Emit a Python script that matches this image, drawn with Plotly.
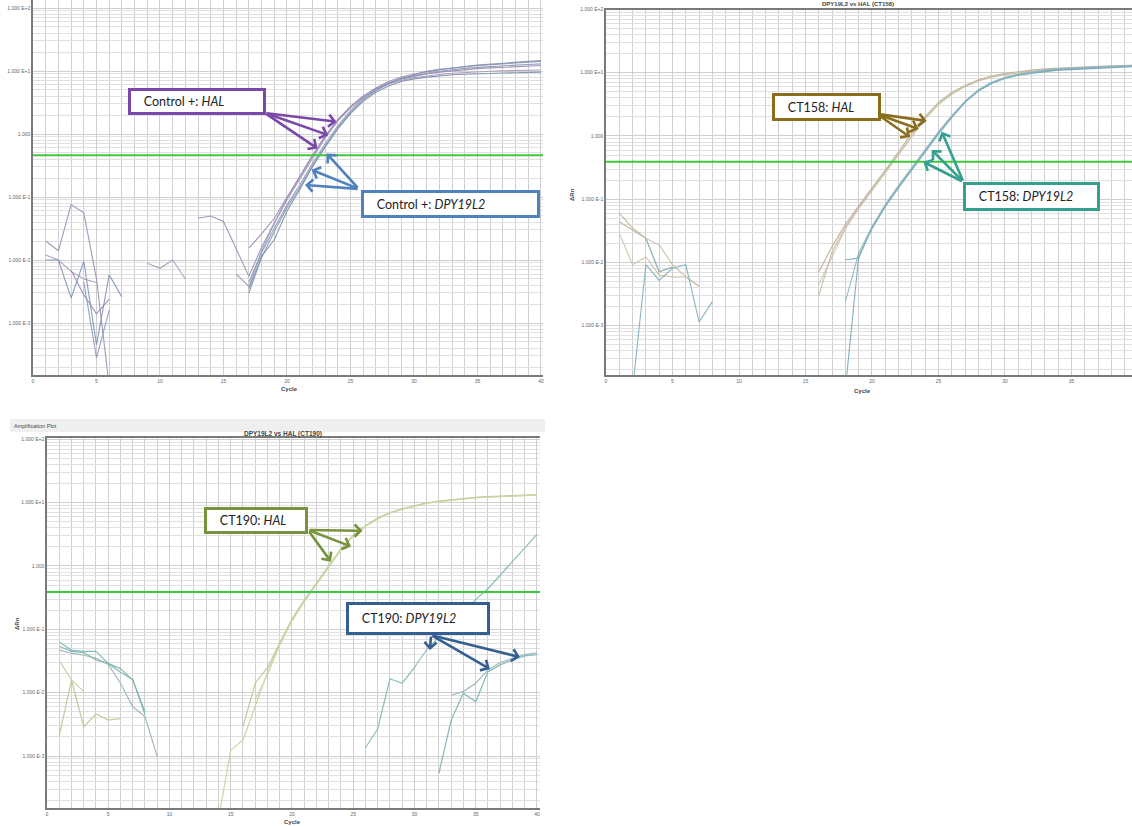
import math
import plotly.graph_objects as go

W, H = 1132, 827
N = None

CYCLES = list(range(1, 41))
X_TICKS = [0, 5, 10, 15, 20, 25, 30, 35, 40]
DECADES = [1e-3, 1e-2, 1e-1, 1.0, 10.0, 100.0]
DECADE_TEXT = ["1.000 E-3", "1.000 E-2", "1.000 E-1", "1.000", "1.000 E+1", "1.000 E+2"]

# ---- Control + (HAL / DPY19L2), delta Rn per cycle ----
ctrl_hal_1 = [0.020, 0.014, 0.076, 0.056, 0.0050, 0.0001, N, N, N, N,
              N, N, 0.046, 0.050, 0.041, 0.015, 0.0055, 0.016, 0.040, 0.095,
              0.20, 0.44, 0.90, 1.65, 2.7, 4.0, 5.4, 6.8, 8.0, 9.0,
              9.9, 10.6, 11.2, 11.7, 12.2, 12.6, 13.0, 13.4, 13.8, 14.2]
ctrl_hal_2 = [0.012, 0.010, 0.0066, 0.0050, 0.0044, N, N, N, 0.0089, 0.0074,
              0.010, 0.0050, N, N, N, 0.0060, 0.0038, 0.014, 0.038, 0.090,
              0.19, 0.42, 0.86, 1.6, 2.6, 3.8, 5.0, 6.2, 7.1, 7.8,
              8.4, 8.8, 9.2, 9.5, 9.7, 9.9, 10.1, 10.2, 10.3, 10.4]
ctrl_hal_3 = [N, N, 0.0069, 0.0028, 0.0014, 0.0024, N, N, N, N,
              N, N, N, N, N, N, 0.0155, 0.026, 0.046, 0.10,
              0.21, 0.46, 0.93, 1.7, 2.75, 4.0, 5.3, 6.5, 7.5, 8.3,
              9.0, 9.6, 10.1, 10.5, 10.9, 11.2, 11.5, 11.8, 12.0, 12.2]
ctrl_dpy_1 = [0.010, 0.010, 0.0025, 0.0095, 0.00045, 0.0058, 0.0026, N, N, N,
              N, N, N, N, N, N, 0.0030, 0.011, 0.028, 0.068,
              0.14, 0.31, 0.64, 1.25, 2.2, 3.5, 4.9, 6.3, 7.6, 8.7,
              9.7, 10.5, 11.2, 11.8, 12.4, 12.9, 13.4, 13.8, 14.2, 14.6]
ctrl_dpy_2 = [N, N, N, 0.0045, 0.00028, 0.0016, N, N, N, N,
              N, N, N, N, N, N, 0.0045, 0.013, 0.032, 0.075,
              0.155, 0.34, 0.70, 1.35, 2.35, 3.7, 5.1, 6.4, 7.5, 8.4,
              9.2, 9.9, 10.5, 11.0, 11.4, 11.8, 12.1, 12.4, 12.7, 13.0]
ctrl_dpy_3 = [N, N, N, N, N, N, N, N, N, N,
              N, N, N, N, N, N, 0.0035, 0.0115, 0.021, 0.060,
              0.13, 0.30, 0.62, 1.2, 2.1, 3.3, 4.6, 5.8, 6.8, 7.5,
              8.0, 8.4, 8.7, 8.9, 9.1, 9.2, 9.3, 9.4, 9.5, 9.6]

# ---- CT158 ----
ct158_hal_1 = [0.060, 0.035, 0.024, 0.019, 0.0092, 0.0059, 0.0042, N, N, N,
               N, N, N, N, N, 0.0030, 0.0148, 0.036, 0.074, 0.141,
               0.269, 0.525, 1.02, 1.9, 3.16, 4.57, 6.03, 7.41, 8.51, 9.33,
               10.0, 10.5, 11.0, 11.2, 11.5, 11.7, 12.0, 12.3, 12.6, 12.6]
ct158_hal_2 = [0.044, 0.033, 0.024, 0.0071, 0.0085, N, N, N, N, N,
               N, N, N, N, N, 0.0071, 0.0178, 0.040, 0.079, 0.151,
               0.288, 0.56, 1.10, 2.04, 3.39, 4.9, 6.3, 7.76, 8.9, 9.77,
               10.5, 11.0, 11.5, 11.7, 12.0, 12.3, 12.6, 12.9, 12.9, 13.2]
ct158_hal_3 = [0.029, 0.0092, 0.0123, 0.0063, 0.0059, 0.0059, 0.0042, N, N, N,
               N, N, N, N, N, 0.0045, 0.0126, 0.034, 0.071, 0.135,
               0.263, 0.50, 0.98, 1.86, 3.16, 4.68, 6.17, 7.59, 8.71, 9.55,
               10.2, 10.7, 11.2, 11.5, 11.7, 12.0, 12.3, 12.6, 12.9, 12.9]
ct158_dpy_1 = [N, 0.0001, 0.0092, 0.0052, 0.0081, 0.0092, 0.00115, 0.0024, N, N,
               N, N, N, N, N, N, N, 0.011, 0.0117, 0.0355,
               0.079, 0.158, 0.302, 0.589, 1.12, 2.0, 3.47, 5.25, 6.92, 8.32,
               9.33, 10.0, 10.7, 11.2, 11.5, 11.7, 12.0, 12.3, 12.6, 12.9]
ct158_dpy_2 = [N, N, 0.024, 0.0071, 0.0085, N, N, N, N, N,
               N, N, N, N, N, N, N, 0.0024, 0.0141, 0.037,
               0.083, 0.166, 0.316, 0.617, 1.17, 2.09, 3.55, 5.37, 7.08, 8.51,
               9.55, 10.2, 11.0, 11.5, 11.7, 12.0, 12.3, 12.6, 12.9, 13.2]
ct158_dpy_3 = [N, N, N, N, N, N, N, N, N, N,
               N, N, N, N, N, N, N, 0.0001, 0.0125, 0.034,
               0.076, 0.151, 0.288, 0.562, 1.07, 1.95, 3.39, 5.13, 6.76, 8.13,
               9.12, 9.77, 10.5, 11.0, 11.2, 11.5, 11.7, 12.0, 12.3, 12.6]

# ---- CT190 ----
ct190_hal_1 = [0.032, 0.0158, 0.0105, N, N, N, N, N, N, N,
               N, N, N, 0.0001, 0.00123, 0.0018, 0.0063, 0.021, 0.059, 0.14,
               0.28, 0.52, 1.0, 1.82, 3.0, 4.27, 5.6, 6.9, 7.9, 8.9,
               9.8, 10.5, 11.0, 11.5, 12.0, 12.3, 12.6, 12.9, 13.2, 13.2]
ct190_hal_2 = [0.0021, 0.0158, 0.0029, 0.0046, 0.0037, 0.0039, N, N, N, N,
               N, N, N, N, N, 0.0029, 0.0141, 0.025, 0.062, 0.145,
               0.29, 0.54, 1.03, 1.86, 3.05, 4.3, 5.7, 7.0, 8.0, 9.0,
               9.9, 10.6, 11.1, 11.6, 12.1, 12.4, 12.7, 13.0, 13.3, 13.4]
ct190_hal_3 = [N, N, N, N, N, N, N, N, N, N,
               N, N, N, N, N, N, 0.0079, 0.019, 0.056, 0.135,
               0.27, 0.51, 0.98, 1.78, 2.95, 4.2, 5.5, 6.8, 7.8, 8.8,
               9.7, 10.4, 10.9, 11.4, 11.9, 12.2, 12.5, 12.8, 13.1, 13.1]
ct190_dpy_1 = [0.063, 0.047, 0.045, 0.045, 0.029, 0.024, 0.0158, 0.0050, N, N,
               N, N, N, N, N, N, N, N, N, N,
               N, N, N, N, N, 0.00135, 0.0027, 0.0166, 0.0141, 0.025,
               0.048, 0.076, 0.12, 0.19, 0.295, 0.437, 0.71, 1.17, 1.9, 3.16]
ct190_dpy_2 = [0.054, 0.045, 0.043, 0.033, 0.029, 0.021, 0.0162, 0.0045, N, N,
               N, N, N, N, N, N, N, N, N, N,
               N, N, N, N, N, N, N, N, N, N,
               N, 0.00054, 0.0037, 0.0098, 0.0072, 0.0214, 0.0275, 0.033, 0.038, 0.040]
ct190_dpy_3 = [0.047, 0.042, 0.039, 0.035, 0.028, 0.0141, 0.0060, 0.0042, 0.00098, N,
               N, N, N, N, N, N, N, N, N, N,
               N, N, N, N, N, N, N, N, N, N,
               N, N, 0.0091, 0.0105, 0.0141, 0.0229, 0.030, 0.0347, 0.040, 0.0427]

# threshold lines (delta Rn)
THRESHOLDS = [0.46, 0.39, 0.39]

# arrow tips (cycle, delta Rn) and shared tails
ctrl_hal_tips = [(23.9, 1.57), (23.25, 0.96), (22.4, 0.59)]
ctrl_hal_tail = (18.27, 2.15)
ctrl_dpy_tips = [(23.13, 0.49), (21.94, 0.27), (21.42, 0.155)]
ctrl_dpy_tail = (25.67, 0.134)
ct158_hal_tips = [(24.11, 1.73), (23.5, 1.29), (22.86, 0.96)]
ct158_hal_tail = (20.38, 2.23)
ct158_dpy_tips = [(25.24, 1.17), (24.49, 0.60), (23.86, 0.39)]
ct158_dpy_tail = (26.88, 0.187)
ct190_hal_tips = [(25.76, 3.6), (24.82, 2.03), (23.18, 1.17)]
ct190_hal_tail = (21.31, 3.7)
ct190_dpy_tips = [(31.27, 0.047), (36.16, 0.0236), (38.61, 0.0365)]
ct190_dpy_tail = (31.35, 0.0813)

# ---------------- styling ----------------
GRID_MAJOR = "#cfcfcf"
GRID_MINOR = "#e0e0e0"
AXIS_COLOR = "#7a7a7a"
TICK_FONT = dict(family="Liberation Sans", size=5, color="#666666")
GREEN = "#3cc83c"
MINOR_VALS = [k * 10.0 ** e for e in range(-4, 3) for k in range(2, 10)]

fig = go.Figure()


def add_series(values, color, xa, ya, width=1.1):
    fig.add_trace(go.Scatter(
        x=CYCLES, y=values, mode="lines", xaxis=xa, yaxis=ya,
        line=dict(color=color, width=width), opacity=0.9,
        connectgaps=False, showlegend=False, hoverinfo="skip"))


for vals, col in [(ctrl_hal_1, "#9b8fb3"), (ctrl_hal_2, "#a89bba"), (ctrl_hal_3, "#9d88b5"),
                  (ctrl_dpy_1, "#7f93b3"), (ctrl_dpy_2, "#8a9ab6"), (ctrl_dpy_3, "#7a8dac")]:
    add_series(vals, col, "x", "y")

for vals, col in [(ct158_hal_1, "#c4b99c"), (ct158_hal_2, "#bbb19a"), (ct158_hal_3, "#cdc2a6"),
                  (ct158_dpy_1, "#7eafbe"), (ct158_dpy_2, "#8cb7c2"), (ct158_dpy_3, "#77a8b8")]:
    add_series(vals, col, "x2", "y2")

for vals, col in [(ct190_hal_1, "#c4d3a0"), (ct190_hal_2, "#b8c895"), (ct190_hal_3, "#cddbab"),
                  (ct190_dpy_1, "#80b8b9"), (ct190_dpy_2, "#79b3b5"), (ct190_dpy_3, "#98b2b8")]:
    add_series(vals, col, "x3", "y3", width=1.2)


def x_axis(domain, rng, anchor, mirror):
    return dict(domain=domain, range=rng, anchor=anchor,
                tickmode="array", tickvals=X_TICKS, ticktext=[str(v) for v in X_TICKS],
                showgrid=True, gridcolor=GRID_MAJOR, gridwidth=1,
                minor=dict(tickmode="linear", tick0=0, dtick=1, showgrid=True,
                           gridcolor=GRID_MAJOR, gridwidth=1, ticks=""),
                showline=True, linecolor=AXIS_COLOR, linewidth=1.5, mirror=mirror,
                ticks="", tickfont=TICK_FONT, zeroline=False, automargin=False, fixedrange=True)


def y_axis(domain, rng, anchor):
    return dict(type="log", domain=domain, range=rng, anchor=anchor,
                tickmode="array", tickvals=DECADES, ticktext=DECADE_TEXT,
                showgrid=True, gridcolor=GRID_MAJOR, gridwidth=1,
                minor=dict(tickmode="array", tickvals=MINOR_VALS, showgrid=True,
                           gridcolor=GRID_MINOR, gridwidth=1, ticks=""),
                showline=True, linecolor=AXIS_COLOR, linewidth=1.5,
                ticks="", tickfont=TICK_FONT, zeroline=False, automargin=False, fixedrange=True)


def px_x(p):
    return p / W


def px_y(p):
    return 1 - p / H


layout = dict(
    width=W, height=H, margin=dict(l=0, r=0, t=0, b=0),
    paper_bgcolor="white", plot_bgcolor="white", showlegend=False,
    xaxis=x_axis([px_x(33), px_x(543)], [0, 40.16], "y", False),
    yaxis=y_axis([px_y(375), 1.0], [-3.825, 2.127], "x"),
    xaxis2=x_axis([px_x(606), 1.0], [0, 39.55], "y2", True),
    yaxis2=y_axis([px_y(375), px_y(9.5)], [-3.78, 2.0], "x2"),
    xaxis3=x_axis([px_x(47), px_x(540)], [0, 40.25], "y3", True),
    yaxis3=y_axis([px_y(808), px_y(438)], [-3.82, 2.02], "x3"),
)

shapes = []
for (xa, ya), thr in zip([("x", "y"), ("x2", "y2"), ("x3", "y3")], THRESHOLDS):
    shapes.append(dict(type="line", xref=f"{xa} domain", yref=ya, x0=0, x1=1, y0=thr, y1=thr,
                       line=dict(color=GREEN, width=2), layer="above"))
# header strip above the third plot
shapes.append(dict(type="rect", xref="paper", yref="paper", x0=px_x(10), x1=px_x(545),
                   y0=px_y(432), y1=px_y(419), fillcolor="#efefef", line=dict(width=0), layer="below"))

annotations = []


def arrows(xa, ya, tips, tail, color):
    for cx, cv in tips:
        annotations.append(dict(
            xref=xa, yref=ya, axref=xa, ayref=ya,
            x=cx, y=math.log10(cv), ax=tail[0], ay=math.log10(tail[1]),
            text="", showarrow=True, arrowhead=4, arrowsize=0.9, arrowwidth=2.6,
            arrowcolor=color, standoff=0, startstandoff=0))


def label_box(left, top, w, h, html, color):
    annotations.append(dict(
        xref="paper", yref="paper", x=px_x(left), y=px_y(top),
        xanchor="left", yanchor="top", width=w - 6, height=h - 6,
        text="\u00a0\u00a0\u00a0\u00a0" + html, showarrow=False, align="left", valign="middle",
        bgcolor="white", bordercolor=color, borderwidth=3, borderpad=0,
        font=dict(family="Lato", size=12.5, color="#222222")))


C_PURPLE, C_BLUE = "#7a48a8", "#4f81bd"
C_OLIVE, C_TEAL = "#8a6d1f", "#34a08e"
C_GREEN, C_NAVY = "#77933c", "#365f91"

arrows("x", "y", ctrl_hal_tips, ctrl_hal_tail, C_PURPLE)
arrows("x", "y", ctrl_dpy_tips, ctrl_dpy_tail, C_BLUE)
arrows("x2", "y2", ct158_hal_tips, ct158_hal_tail, C_OLIVE)
arrows("x2", "y2", ct158_dpy_tips, ct158_dpy_tail, C_TEAL)
arrows("x3", "y3", ct190_hal_tips, ct190_hal_tail, C_GREEN)
arrows("x3", "y3", ct190_dpy_tips, ct190_dpy_tail, C_NAVY)

label_box(128, 88, 138, 27, "Control +: <i>HAL</i>", C_PURPLE)
label_box(361, 190, 179, 28, "Control +: <i>DPY19L2</i>", C_BLUE)
label_box(772, 93, 109, 28, "CT158: <i>HAL</i>", C_OLIVE)
label_box(963, 182, 137, 29, "CT158: <i>DPY19L2</i>", C_TEAL)
label_box(204, 507, 104, 27, "CT190: <i>HAL</i>", C_GREEN)
label_box(346, 602, 144, 33, "CT190: <i>DPY19L2</i>", C_NAVY)


def small_text(px, py, text, angle=0, anchor="center", bold=False, size=6):
    annotations.append(dict(
        xref="paper", yref="paper", x=px_x(px), y=px_y(py), xanchor=anchor, yanchor="middle",
        text=f"<b>{text}</b>" if bold else text, showarrow=False, textangle=angle,
        font=dict(family="Liberation Sans", size=size, color="#444444")))


small_text(289, 389, "Cycle", bold=True)
small_text(862, 391, "Cycle", bold=True)
small_text(292, 822, "Cycle", bold=True)
small_text(572, 195, "\u0394Rn", angle=-90, bold=True)
small_text(17, 624, "\u0394Rn", angle=-90, bold=True)
small_text(858, 4.5, "DPY19L2 vs HAL (CT158)", bold=True, size=6)
small_text(12, 425.5, "Amplification Plot", anchor="left", size=5.5)
small_text(283, 434, "DPY19L2 vs HAL (CT190)", bold=True, size=6.5)

layout["shapes"] = shapes
layout["annotations"] = annotations
fig.update_layout(**layout)

fig.write_html("out.html")
